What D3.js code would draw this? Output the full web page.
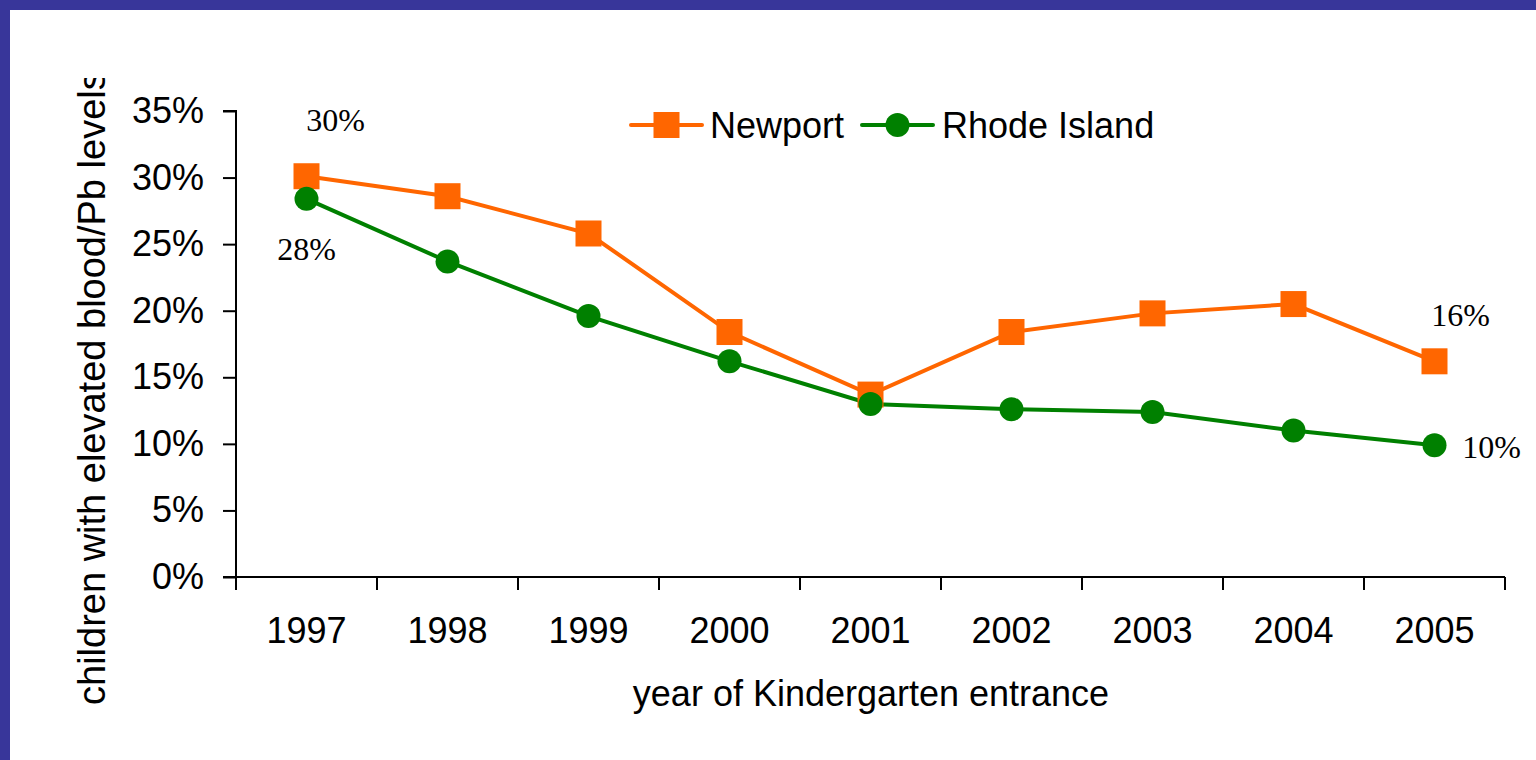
<!DOCTYPE html>
<html><head><meta charset="utf-8">
<script src="https://cdn.jsdelivr.net/npm/d3@7"></script>
<style>body{margin:0;background:#fff;}svg{display:block;}</style>
</head><body>
<svg id="c" width="1536" height="760"></svg>
<script>
const years = ["1997","1998","1999","2000","2001","2002","2003","2004","2005"];
const newport = [30.1, 28.6, 25.8, 18.4, 13.7, 18.4, 19.8, 20.5, 16.2];
const rhodeIsland = [28.4, 23.7, 19.6, 16.2, 13.0, 12.6, 12.4, 11.0, 9.9];
const yTicks = [0, 5, 10, 15, 20, 25, 30, 35];
const seriesNames = ["Newport", "Rhode Island"];
const annotations = [
  {series: 0, index: 0, text: "30%", dx: 29, dy: -56},
  {series: 1, index: 0, text: "28%", dx: 0, dy: 50},
  {series: 0, index: 8, text: "16%", dx: 26, dy: -46},
  {series: 1, index: 8, text: "10%", dx: 57, dy: 2}
];

const svg = d3.select("#c");
svg.append("rect").attr("x",0).attr("y",0).attr("width",1536).attr("height",760).attr("fill","#38369a");
svg.append("rect").attr("x",10).attr("y",10).attr("width",1526).attr("height",750).attr("fill","#fff");

const L = 236, R = 1505, T = 111, B = 577;
const x = d3.scaleBand().domain(years).range([L, R]);
const y = d3.scaleLinear().domain([0, 35]).range([B, T]);
const sans = "Liberation Sans, Arial, sans-serif";

const yAxis = svg.append("g").attr("transform", `translate(${L},0)`)
  .call(d3.axisLeft(y).tickValues(yTicks).tickFormat(d => d + "%").tickSize(13).tickPadding(19));
const xAxis = svg.append("g").attr("transform", `translate(0,${B})`)
  .call(d3.axisBottom(x).tickSize(0).tickPadding(40));
const bounds = years.map(d => x(d)).concat([R]);
xAxis.selectAll(".bt").data(bounds).enter().append("line")
  .attr("x1", d => d).attr("x2", d => d).attr("y1", 0).attr("y2", 13)
  .attr("stroke", "#000").attr("stroke-width", 2);
[yAxis, xAxis].forEach(g => {
  g.attr("font-size", 36).attr("font-family", sans);
  g.select(".domain").attr("stroke", "#000").attr("stroke-width", 2);
  g.selectAll(".tick line").attr("stroke", "#000").attr("stroke-width", 2);
  g.selectAll("text").attr("font-family", sans).attr("font-size", 36).attr("fill", "#000");
});
yAxis.select(".domain").attr("d", `M-13,${T}H0V${B}H-13`);
xAxis.select(".domain").attr("d", `M${L-13},0H${R}`);

const colors = ["#ff6600", "#008000"];
const data = [newport, rhodeIsland];
const line = d3.line().x((d, i) => x(years[i]) + x.bandwidth() / 2).y(d => y(d));
data.forEach((s, k) => {
  svg.append("path").datum(s).attr("d", line).attr("fill", "none")
    .attr("stroke", colors[k]).attr("stroke-width", 4);
});
svg.selectAll(".sq").data(newport).enter().append("rect")
  .attr("x", (d, i) => x(years[i]) + x.bandwidth() / 2 - 13)
  .attr("y", d => y(d) - 13).attr("width", 26).attr("height", 26).attr("fill", colors[0]);
svg.selectAll(".ci").data(rhodeIsland).enter().append("circle")
  .attr("cx", (d, i) => x(years[i]) + x.bandwidth() / 2)
  .attr("cy", d => y(d)).attr("r", 12).attr("fill", colors[1]);

annotations.forEach(a => {
  svg.append("text")
    .attr("x", x(years[a.index]) + x.bandwidth() / 2 + a.dx)
    .attr("y", y(data[a.series][a.index]) + a.dy)
    .attr("text-anchor", "middle").attr("dominant-baseline", "central")
    .attr("font-family", "Liberation Serif, Times New Roman, serif").attr("font-size", 32)
    .attr("fill", "#000").text(a.text);
});

const leg = [{x1: 631, x2: 702, tx: 710}, {x1: 862, x2: 933, tx: 942}];
const ly = 125;
leg.forEach((l, k) => {
  svg.append("line").attr("x1", l.x1).attr("x2", l.x2).attr("y1", ly).attr("y2", ly)
    .attr("stroke", colors[k]).attr("stroke-width", 4).attr("stroke-linecap", "round");
  const cx = (l.x1 + l.x2) / 2;
  if (k === 0) svg.append("rect").attr("x", cx - 13).attr("y", ly - 13).attr("width", 26).attr("height", 26).attr("fill", colors[0]);
  else svg.append("circle").attr("cx", cx).attr("cy", ly).attr("r", 12).attr("fill", colors[1]);
  svg.append("text").attr("x", l.tx).attr("y", ly + 13)
    .attr("font-family", sans).attr("font-size", 36)
    .attr("fill", "#000").text(seriesNames[k]);
});

svg.append("text").attr("x", 871).attr("y", 706).attr("text-anchor", "middle")
  .attr("font-family", sans).attr("font-size", 36)
  .attr("fill", "#000").text("year of Kindergarten entrance");
svg.append("clipPath").attr("id", "yc").append("rect").attr("x", 0).attr("y", 78).attr("width", 200).attr("height", 700);
svg.append("g").attr("clip-path", "url(#yc)").append("text")
  .attr("transform", "translate(105,705) rotate(-90)")
  .attr("font-family", sans).attr("font-size", 38)
  .attr("fill", "#000").text("children with elevated blood/Pb levels");
</script>
</body></html>
